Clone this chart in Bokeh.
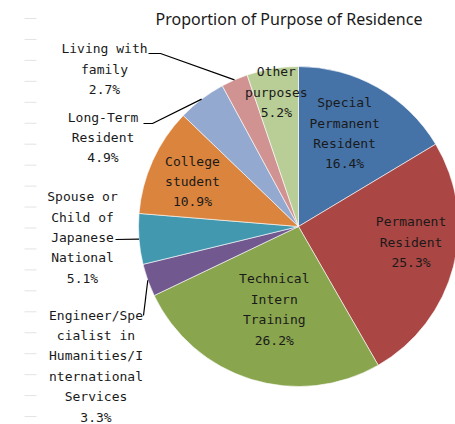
import math
from bokeh.plotting import figure
from bokeh.models import Range1d, ColumnDataSource
from bokeh.core.properties import value
from bokeh.embed import file_html
from bokeh.resources import INLINE

# ---- data ----
categories = [
    "Special\nPermanent\nResident",
    "Permanent\nResident",
    "Technical\nIntern\nTraining",
    "Engineer/Spe\ncialist in\nHumanities/I\nnternational\nServices",
    "Spouse or\nChild of\nJapanese\nNational",
    "College\nstudent",
    "Long-Term\nResident",
    "Living with\nfamily",
    "Other\npurposes",
]
shares = [16.4, 25.3, 26.2, 3.3, 5.1, 10.9, 4.9, 2.7, 5.2]
colors = ["#4572A7", "#AA4643", "#89A54E", "#71588F", "#4198AF",
          "#DB843D", "#93A9CF", "#D19392", "#B9CD96"]
title_text = "Proportion of Purpose of Residence"

# ---- layout ----
W, H = 455, 424
CX, CY, R = 298, 198, 160
label_font = "DejaVu Sans Mono"

# inside labels: index -> (radial fraction, angle nudge in degrees)
inside = {0: (0.65, 3.2), 1: (0.71, 6.7), 2: (0.54, 1.0), 5: (0.72, 1.3), 8: (0.85, 0.0)}
# outside labels: index -> (text centre x, text centre y, leader start x, leader start y, elbow x)
outside = {
    7: (104, 355.3, 148, 371, 160),
    6: (102.5, 287, 143, 301, 152),
    4: (82, 187, 115, 185, None),
    3: (95.5, 58.5, 143, 109, None),
}

total = sum(shares)
starts, ends, mids = [], [], []
cum = 0.0
for s in shares:
    a0 = 90 - (cum + s) / total * 360
    a1 = 90 - cum / total * 360
    starts.append(a0)
    ends.append(a1)
    mids.append((a0 + a1) / 2)
    cum += s

p = figure(width=W, height=H, x_range=Range1d(0, W), y_range=Range1d(0, H),
           x_axis_type=None, y_axis_type=None, output_backend="svg",
           toolbar_location=None, min_border=0)
p.grid.visible = False
p.outline_line_color = None
p.background_fill_color = "white"

# faint dashes on the left
dash_y = [406 - i * 20.95 for i in range(20)]
p.segment(x0=[24] * len(dash_y), x1=[36] * len(dash_y), y0=dash_y, y1=dash_y,
          line_color="#e3e3e3", line_width=1)

src = ColumnDataSource(dict(start=starts, end=ends, color=colors))
p.wedge(x=CX, y=CY, radius=R, start_angle="start", end_angle="end",
        start_angle_units="deg", end_angle_units="deg", direction="anticlock",
        fill_color="color", line_color="white", line_width=0.6, source=src)

labels = [f"{c}\n{s}%" for c, s in zip(categories, shares)]

tx, ty, tt = [], [], []
for i, (rf, nudge) in inside.items():
    a = math.radians(mids[i] + nudge)
    tx.append(CX + rf * R * math.cos(a))
    ty.append(CY + rf * R * math.sin(a))
    tt.append(labels[i])

xs, ys = [], []
for i, (lx, ly, sx, sy, ex) in outside.items():
    tx.append(lx)
    ty.append(ly)
    tt.append(labels[i])
    a = math.radians(mids[i])
    px, py = CX + R * math.cos(a), CY + R * math.sin(a)
    if ex is None:
        xs.append([sx, px]); ys.append([sy, py])
    else:
        xs.append([sx, ex, px]); ys.append([sy, sy, py])

p.multi_line(xs=xs, ys=ys, line_color="black", line_width=1.2)

p.text(x=tx, y=ty, text=tt, text_font=value(label_font), text_font_size="13px",
       text_align="center", text_baseline="middle", text_line_height=1.36,
       text_color="#1a1a1a")

p.text(x=[288.5], y=[406], text=[title_text], text_font=value("Noto Sans"),
       text_font_size="16px", text_align="center", text_baseline="middle",
       text_color="#1a1a1a")

open("out.html", "w").write(file_html(p, INLINE))
